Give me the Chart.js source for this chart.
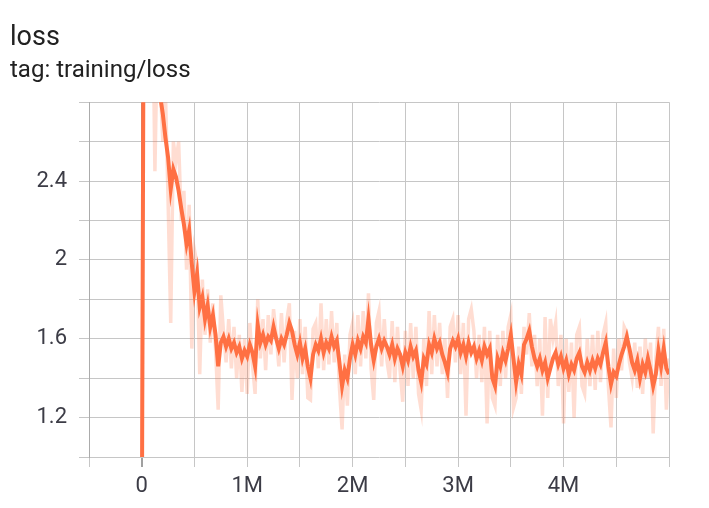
<!DOCTYPE html>
<html>
<head>
<meta charset="utf-8">
<script src="https://cdn.jsdelivr.net/npm/chart.js@4.4.1/dist/chart.umd.min.js"></script>
<style>
  html, body { margin: 0; padding: 0; background: #fff; }
  #wrap { width: 709px; height: 508px; position: relative; }
</style>
</head>
<body>
<div id="wrap"><canvas id="chart"></canvas></div>
<script>
// steps are logged every 25k
const STEP_INTERVAL = 25000

// smoothed loss (bold line)
const smoothedLoss = [
    0.4, 4.5, 4.0, 3.6, 3.3, 3.1, 2.95, 2.83, 2.74, 2.62,
    2.52, 2.36, 2.46, 2.42, 2.35, 2.26, 2.18, 2.08, 2.15, 1.98,
    1.84, 1.93, 1.76, 1.81, 1.70, 1.77, 1.66, 1.72, 1.62, 1.46,
    1.58, 1.61, 1.56, 1.60, 1.55, 1.58, 1.53, 1.56, 1.50, 1.54,
    1.51, 1.57, 1.53, 1.46, 1.67, 1.58, 1.62, 1.57, 1.61, 1.59,
    1.66, 1.60, 1.55, 1.60, 1.57, 1.62, 1.68, 1.64, 1.57, 1.52,
    1.58, 1.50, 1.55, 1.46, 1.40, 1.52, 1.57, 1.54, 1.60, 1.53,
    1.58, 1.55, 1.61, 1.56, 1.59, 1.48, 1.36, 1.44, 1.40, 1.50,
    1.57, 1.52, 1.59, 1.55, 1.61, 1.58, 1.70, 1.57, 1.49, 1.56,
    1.60, 1.55, 1.59, 1.56, 1.52, 1.57, 1.50, 1.55, 1.52, 1.46,
    1.53, 1.49, 1.56, 1.51, 1.54, 1.44, 1.38, 1.50, 1.47, 1.57,
    1.53, 1.60, 1.55, 1.58, 1.52, 1.48, 1.43, 1.55, 1.59, 1.56,
    1.60, 1.53, 1.57, 1.51, 1.58, 1.53, 1.56, 1.50, 1.54, 1.49,
    1.56, 1.52, 1.55, 1.40, 1.36, 1.50, 1.46, 1.53, 1.49, 1.55,
    1.62, 1.50, 1.38, 1.47, 1.42, 1.57, 1.60, 1.64, 1.56, 1.50,
    1.46, 1.50, 1.44, 1.48, 1.40, 1.45, 1.50, 1.53, 1.47, 1.51,
    1.45, 1.49, 1.42, 1.47, 1.44, 1.50, 1.53, 1.46, 1.43, 1.48,
    1.44, 1.49, 1.45, 1.50, 1.47, 1.53, 1.58, 1.46, 1.37, 1.43,
    1.41, 1.47, 1.52, 1.56, 1.61, 1.55, 1.48, 1.44, 1.49, 1.40,
    1.47, 1.43, 1.50, 1.44, 1.36, 1.42, 1.54, 1.46, 1.55, 1.45,
    1.42,
]

// raw loss (faint line)
const rawLoss = [
    0.4, 4.8, 3.9, 3.4, 3.5, 2.45, 3.2, 2.9, 2.6, 2.85,
    2.3, 1.68, 2.6, 2.5, 2.6, 2.2, 2.35, 1.95, 2.28, 1.55,
    2.05, 1.98, 1.42, 1.9, 1.62, 1.85, 1.58, 1.78, 1.55, 1.24,
    1.82, 1.64, 1.48, 1.70, 1.45, 1.66, 1.40, 1.62, 1.33, 1.60,
    1.32, 1.68, 1.47, 1.32, 1.80, 1.50, 1.70, 1.44, 1.72, 1.52,
    1.75, 1.62, 1.46, 1.73, 1.48, 1.69, 1.78, 1.29, 1.64, 1.40,
    1.70, 1.42, 1.66, 1.30, 1.29, 1.65, 1.68, 1.45, 1.78, 1.44,
    1.70, 1.47, 1.74, 1.48, 1.68, 1.35, 1.14, 1.52, 1.26, 1.62,
    1.68, 1.42, 1.72, 1.46, 1.74, 1.50, 1.83, 1.45, 1.29, 1.68,
    1.74, 1.46, 1.70, 1.49, 1.40, 1.69, 1.38, 1.66, 1.44, 1.28,
    1.64, 1.36, 1.68, 1.40, 1.66, 1.32, 1.24, 1.60, 1.36, 1.74,
    1.42, 1.72, 1.46, 1.68, 1.42, 1.60, 1.30, 1.66, 1.70, 1.48,
    1.72, 1.42, 1.68, 1.21, 1.70, 1.75, 1.64, 1.40, 1.62, 1.38,
    1.66, 1.17, 1.64, 1.30, 1.26, 1.62, 1.36, 1.64, 1.40, 1.66,
    1.72, 1.25, 1.30, 1.56, 1.32, 1.66, 1.52, 1.73, 1.46, 1.62,
    1.36, 1.60, 1.21, 1.71, 1.30, 1.70, 1.60, 1.68, 1.36, 1.62,
    1.17, 1.60, 1.33, 1.58, 1.20, 1.62, 1.66, 1.36, 1.32, 1.60,
    1.36, 1.62, 1.34, 1.64, 1.38, 1.62, 1.68, 1.36, 1.15, 1.55,
    1.30, 1.60, 1.44, 1.66, 1.63, 1.48, 1.40, 1.58, 1.35, 1.56,
    1.32, 1.60, 1.40, 1.58, 1.12, 1.50, 1.66, 1.36, 1.65, 1.24,
    1.50,
]

// axis ticks that carry a label
const yTickLabels = ["1.2", "1.6", "2", "2.4"]
const xTickLabels = { 0: "0", 1000000: "1M", 2000000: "2M", 3000000: "3M", 4000000: "4M" }

const ORANGE = "#ff7043"
const TICK_COLOR = "#3c3c46"
const GRID_COLOR = "#c6c6c6"

const toPoints = (values) => values.map((v, i) => ({ x: i * STEP_INTERVAL, y: v }))

new Chart(document.getElementById("chart"), {
    type: "line",
    data: {
        datasets: [
            {
                label: "smoothed",
                data: toPoints(smoothedLoss),
                borderColor: ORANGE,
                borderWidth: 4,
                pointRadius: 0,
                tension: 0,
                clip: 0,
                order: 0,
            },
            {
                label: "raw",
                data: toPoints(rawLoss),
                borderColor: "rgba(255, 112, 67, 0.24)",
                borderWidth: 3.5,
                pointRadius: 0,
                tension: 0,
                clip: 0,
                order: 1,
            },
        ],
    },
    options: {
        responsive: true,
        maintainAspectRatio: false,
        animation: false,
        events: [],
        layout: { padding: { left: 10, right: 40, top: 0, bottom: 0 } },
        plugins: {
            legend: { display: false },
            tooltip: { enabled: false },
            title: {
                display: true,
                text: "loss",
                align: "start",
                color: "#212121",
                font: { family: "Roboto", size: 27, weight: "normal" },
                padding: { top: 22, bottom: 2 },
            },
            subtitle: {
                display: true,
                text: "tag: training/loss",
                align: "start",
                color: "#212121",
                font: { family: "Roboto", size: 24, weight: "normal" },
                padding: { top: 0, bottom: 17 },
            },
        },
        scales: {
            x: {
                type: "linear",
                min: -500000,
                max: 5000000,
                afterFit: (scale) => { scale.height = 51 },
                border: { display: false },
                grid: {
                    color: (ctx) => (ctx.tick && ctx.tick.value === 0 ? "#a0a0a0" : GRID_COLOR),
                    lineWidth: (ctx) => (ctx.tick && ctx.tick.value === 0 ? 2 : 1),
                    tickLength: 10,
                },
                ticks: {
                    stepSize: 500000,
                    maxTicksLimit: 20,
                    autoSkip: false,
                    maxRotation: 0,
                    padding: 6,
                    color: TICK_COLOR,
                    font: { family: "Roboto", size: 22 },
                    callback: (value) => xTickLabels[value] ?? "",
                },
            },
            y: {
                min: 1.0,
                max: 2.8,
                afterFit: (scale) => { scale.width = 79 },
                border: { color: "#ababab", width: 1 },
                grid: { color: GRID_COLOR, tickLength: 10 },
                ticks: {
                    stepSize: 0.2,
                    maxTicksLimit: 20,
                    padding: 12,
                    color: TICK_COLOR,
                    font: { family: "Roboto", size: 22 },
                    callback: (value) => {
                        const label = String(Math.round(value * 10) / 10)
                        return yTickLabels.includes(label) ? label : ""
                    },
                },
            },
        },
    },
})
</script>
</body>
</html>
